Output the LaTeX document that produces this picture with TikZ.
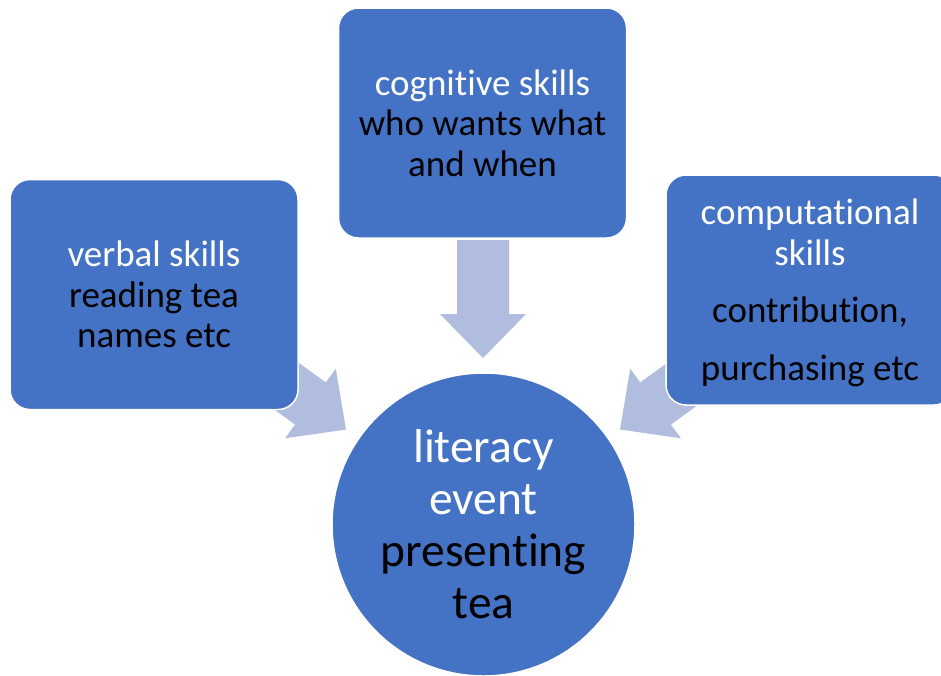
\documentclass[tikz,border=0pt]{standalone}
\usepackage{fontspec}
\setmainfont{Carlito}[Ligatures=NoCommon]
\definecolor{boxblue}{HTML}{4472C4}
\definecolor{arrowblue}{HTML}{B1BDDF}
\newcommand\nolig{\kern0pt{}}
\begin{document}
\begin{tikzpicture}[x=1pt,y=-1pt,
  skillbox/.style={draw=white, line width=1.5pt, fill=boxblue, rounded corners=20pt,
    minimum width=288pt, minimum height=230pt, align=center, inner sep=0pt,
    font=\fontsize{37}{40.5}\selectfont},
  hubcircle/.style={circle, draw=white, line width=1.5pt, fill=boxblue, minimum size=303pt,
    align=center, inner sep=0pt, font=\fontsize{47.5}{52}\selectfont},
  blockarrow/.style={fill=arrowblue, draw=none}]
\useasboundingbox (0,0) rectangle (941,675);
\clip (0,0) rectangle (941,675);
% block arrows
\fill[blockarrow] (457,240) -- (509,240) -- (509,314) -- (526,314) -- (483,358) -- (440,314) -- (457,314) -- cycle;
\fill[blockarrow] (235.1,381.0) -- (265.7,338.8) -- (325.7,382.4) -- (335.8,368.7) -- (346,429.5) -- (285.0,438.3) -- (295.1,424.6) -- cycle;
\fill[blockarrow] (730.9,381.0) -- (700.3,338.8) -- (640.3,382.4) -- (630.2,368.7) -- (620,429.5) -- (681,438.3) -- (670.9,424.6) -- cycle;
% boxes
\node[skillbox] (verbal) at (154,294.5) {\textcolor{white}{verbal skills}\\reading tea\\names etc};
\node[skillbox] (cognitive) at (482.5,123) {\textcolor{white}{cognit\nolig ive skills}\\who wants what\\and when};
\node[skillbox] (computational) at (810,290) {};
\node[align=center, inner sep=0pt, font=\fontsize{37}{40.5}\selectfont] (computationaltext) at (810,293) {\textcolor{white}{computat\nolig ional}\\\textcolor{white}{skills}\\[17pt]contribut\nolig ion,\\[17pt]purchasing etc};
\node[hubcircle] (hub) at (483.5,524.5) {\textcolor{white}{literacy}\\\textcolor{white}{event}\\present\nolig ing\\tea};
\end{tikzpicture}
\end{document}
